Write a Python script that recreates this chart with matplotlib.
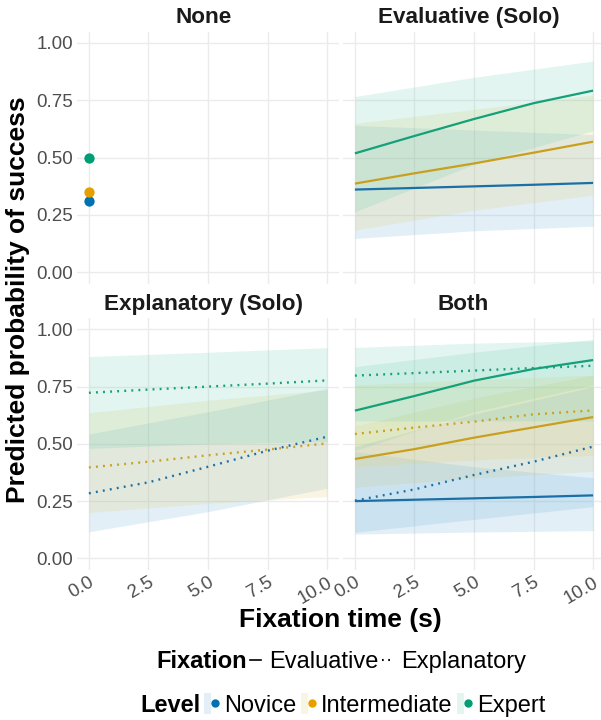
import matplotlib
matplotlib.use("Agg")
import matplotlib.pyplot as plt
import numpy as np
from matplotlib.lines import Line2D
from matplotlib.patches import Patch
from matplotlib.legend_handler import HandlerTuple

plt.rcParams['font.family'] = ['Liberation Sans', 'DejaVu Sans']

levels = ["Novice", "Intermediate", "Expert"]
point_cols = ["#0072B2", "#E69F00", "#009E73"]
line_cols = ["#1a6fa6", "#c9a01e", "#14a079"]
fill_cols = ["#6fb3d9", "#e6cf6f", "#6fd0b4"]

x5 = [0, 2.5, 5, 7.5, 10]   # fitted lines read at these times
x3 = [0, 5, 10]             # ribbons read at these times

# None panel: single points at x = 0
none_vals = [0.308, 0.349, 0.498]

# Evaluative (Solo)
eval_fit = [[0.360, 0.367, 0.374, 0.381, 0.389],
            [0.386, 0.431, 0.474, 0.521, 0.569],
            [0.518, 0.594, 0.668, 0.737, 0.792]]
eval_lo = [[0.147, 0.180, 0.200], [0.183, 0.270, 0.336], [0.263, 0.470, 0.617]]
eval_hi = [[0.640, 0.620, 0.600], [0.649, 0.710, 0.773], [0.766, 0.850, 0.921]]

# Explanatory (Solo)
expl_fit = [[0.284, 0.332, 0.400, 0.470, 0.531],
            [0.397, 0.422, 0.450, 0.475, 0.502],
            [0.723, 0.737, 0.750, 0.763, 0.777]]
expl_lo = [[0.116, 0.204, 0.306], [0.200, 0.240, 0.270], [0.480, 0.500, 0.510]]
expl_hi = [[0.543, 0.640, 0.742], [0.636, 0.690, 0.735], [0.881, 0.900, 0.920]]

# Both: evaluative (solid) and explanatory (dotted)
both_eval_fit = [[0.250, 0.256, 0.262, 0.268, 0.275],
                 [0.434, 0.477, 0.527, 0.572, 0.617],
                 [0.645, 0.709, 0.776, 0.827, 0.866]]
both_eval_lo = [[0.106, 0.115, 0.121], [0.310, 0.350, 0.380], [0.470, 0.640, 0.757]]
both_eval_hi = [[0.466, 0.400, 0.352], [0.578, 0.700, 0.800], [0.837, 0.900, 0.956]]
both_expl_fit = [[0.252, 0.301, 0.364, 0.422, 0.488],
                 [0.543, 0.571, 0.597, 0.629, 0.646],
                 [0.798, 0.809, 0.820, 0.831, 0.841]]
both_expl_lo = [[0.114, 0.170, 0.226], [0.400, 0.430, 0.450], [0.600, 0.600, 0.600]]
both_expl_hi = [[0.488, 0.630, 0.750], [0.757, 0.780, 0.800], [0.921, 0.940, 0.950]]

xticks = [0, 2.5, 5, 7.5, 10]
xlabels = ["0.0", "2.5", "5.0", "7.5", "10.0"]
yticks = [0, 0.25, 0.5, 0.75, 1.0]
ylabels = ["0.00", "0.25", "0.50", "0.75", "1.00"]

W, H = 601, 720
fig = plt.figure(figsize=(W / 100, H / 100), dpi=100)

def px_axes(x0, x1, ytop, ybot):
    return fig.add_axes([x0 / W, 1 - ybot / H, (x1 - x0) / W, (ybot - ytop) / H])

ax_none = px_axes(77, 339, 31.5, 283.5)
ax_eval = px_axes(343, 605, 31.5, 283.5)
ax_expl = px_axes(77, 339, 317.9, 569.8)
ax_both = px_axes(343, 605, 317.9, 569.8)

grid_c = "#ebebeb"
for ax, title, tx in [(ax_none, "None", 0.483), (ax_eval, "Evaluative (Solo)", 0.48),
                      (ax_expl, "Explanatory (Solo)", 0.483), (ax_both, "Both", 0.46)]:
    ax.set_xlim(-0.5, 10.5)
    ax.set_ylim(-0.05, 1.05)
    ax.set_xticks(xticks)
    ax.set_yticks(yticks)
    ax.grid(True, color=grid_c, linewidth=1.0)
    ax.set_axisbelow(True)
    for s in ax.spines.values():
        s.set_visible(False)
    ax.tick_params(length=0, labelsize=13.5, labelcolor="#4d4d4d", pad=3)
    ax.set_title(title, fontsize=16.2, fontweight="bold", color="#1a1a1a", pad=6, x=tx)
    ax.patch.set_alpha(0)

for ax in (ax_none, ax_expl):
    ax.set_yticklabels(ylabels)
for ax in (ax_eval, ax_both):
    ax.set_yticklabels([])
for ax in (ax_none, ax_eval):
    ax.set_xticklabels([])
for ax in (ax_expl, ax_both):
    ax.set_xticklabels(xlabels, rotation=30, ha="right", rotation_mode="anchor")

band_alpha = 0.2
dot_style = (0, (0.8, 2.2))

# None
for i in range(3):
    ax_none.scatter([0], [none_vals[i]], s=55, color=point_cols[i], zorder=3, linewidths=0)

def draw(ax, fit, lo, hi, ls):
    for i in range(3):
        ax.fill_between(x3, lo[i], hi[i], color=fill_cols[i], alpha=band_alpha, linewidth=0)
    for i in range(3):
        if ls == "solid":
            ax.plot(x5, fit[i], color=line_cols[i], lw=1.6, solid_capstyle="butt")
        else:
            ax.plot(x5, fit[i], color=line_cols[i], lw=1.7, linestyle=dot_style,
                    dash_capstyle="butt")

draw(ax_eval, eval_fit, eval_lo, eval_hi, "solid")
draw(ax_expl, expl_fit, expl_lo, expl_hi, "dotted")
draw(ax_both, both_eval_fit, both_eval_lo, both_eval_hi, "solid")
draw(ax_both, both_expl_fit, both_expl_lo, both_expl_hi, "dotted")

fig.text(18 / W, 1 - 300 / H, "Predicted probability of success", rotation=90,
         fontsize=19, fontweight="bold", ha="center", va="center")
fig.text(340 / W, 1 - 620 / H, "Fixation time (s)", fontsize=19, fontweight="bold",
         ha="center", va="center")

# Fixation legend
fig.text(156 / W, 1 - 662 / H, "Fixation", fontsize=17, fontweight="bold", ha="left", va="center")
fix_handles = [Line2D([], [], color="black", lw=1.2),
               Line2D([], [], color="black", lw=1.5, linestyle=(0, (0.8, 2.2)))]
leg1 = fig.legend(fix_handles, ["Evaluative", "Explanatory"], loc="center left",
                  bbox_to_anchor=(250 / W, 1 - 662 / H), ncol=2, frameon=False,
                  fontsize=17, handlelength=0.45, handletextpad=0.35, columnspacing=0.15,
                  borderpad=0, borderaxespad=0)

# Level legend
fig.text(140 / W, 1 - 705 / H, "Level", fontsize=17, fontweight="bold", ha="left", va="center")
lev_handles = [(Patch(facecolor=fill_cols[i], alpha=band_alpha, edgecolor="none"),
                Line2D([], [], marker="o", color=point_cols[i], linestyle="none", markersize=5))
               for i in range(3)]
leg2 = fig.legend(lev_handles, levels, loc="center left",
                  bbox_to_anchor=(204 / W, 1 - 705 / H), ncol=3, frameon=False,
                  fontsize=17, handlelength=0.6, handleheight=1.0, handletextpad=0.25,
                  columnspacing=0.2, borderpad=0, borderaxespad=0,
                  handler_map={tuple: HandlerTuple(ndivide=None)})

fig.savefig("out.png", dpi=100)
